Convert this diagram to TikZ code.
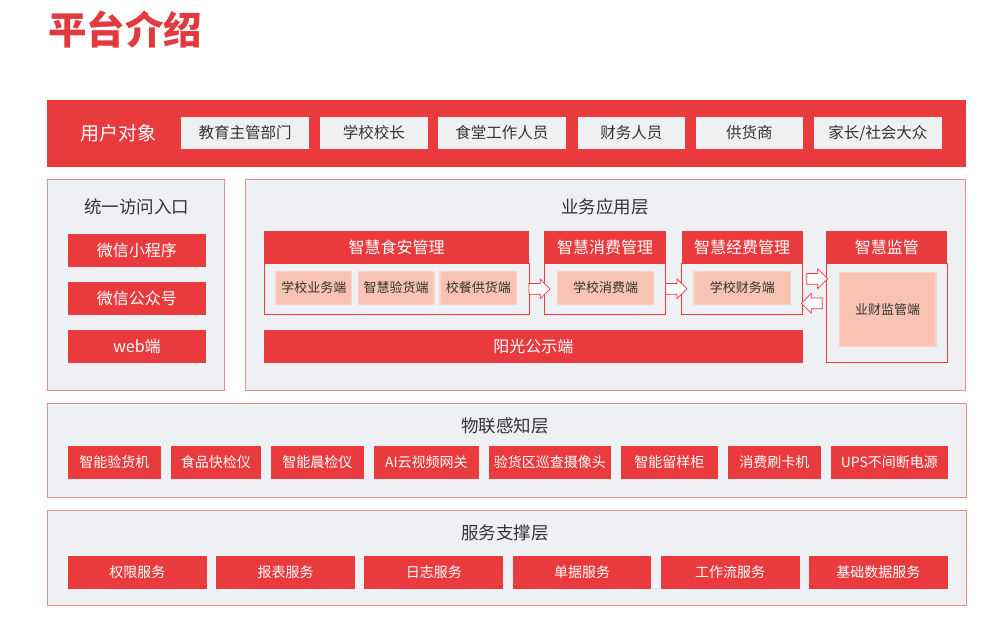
\documentclass[tikz,border=0pt]{standalone}
\usepackage{fontspec}
\setmainfont{Noto Sans CJK SC}
\usetikzlibrary{positioning,calc,shapes.arrows}

\definecolor{tmred}{HTML}{E93A3D}
\definecolor{titlered}{HTML}{E23A3E}
\definecolor{panelgrey}{HTML}{EFF0F3}
\definecolor{panelline}{HTML}{E8918C}
\definecolor{boxgrey}{HTML}{EEF0F2}
\definecolor{salmon}{HTML}{F8C3B3}
\definecolor{salmonedge}{HTML}{F9D3C7}
\definecolor{darktext}{HTML}{333333}

\tikzset{
  panel/.style={draw=panelline, fill=panelgrey, line width=0.8pt, inner sep=0pt},
  redbox/.style={fill=tmred, text=white, inner sep=0pt, outer sep=0pt, minimum height=32.6pt,
    font=\fontsize{14}{14}\selectfont},
  greybox/.style={fill=boxgrey, text=darktext, inner sep=0pt, minimum height=32.6pt,
    font=\fontsize{15.5}{15.5}\selectfont},
  headbox/.style={fill=tmred, text=white, inner sep=0pt, minimum height=32.3pt,
    font=\fontsize{16}{16}\selectfont},
  bodybox/.style={draw=tmred, fill=panelgrey, line width=0.7pt, inner sep=0pt},
  endbox/.style={fill=salmon, draw=salmonedge, line width=1.2pt, text=darktext,
    inner sep=0pt, minimum height=32.6pt, font=\fontsize{13}{13}\selectfont},
  layertitle/.style={text=darktext, font=\fontsize{17.5}{17.5}\selectfont},
  flowarrow/.style={single arrow, draw=tmred, fill=white, line width=0.7pt,
    inner xsep=0pt, inner ysep=5pt, minimum height=21pt, font=\fontsize{1}{1}\selectfont,
    single arrow head extend=4.5pt, single arrow tip angle=90}
}

\begin{document}
\begin{tikzpicture}[x=1pt,y=-1pt]
  \useasboundingbox[fill=white] (0,0) rectangle (1003,627);

  % Titulo
  \node[text=titlered, font=\fontsize{38.5}{38.5}\selectfont\bfseries] (title) at (125,29) {平台介绍};

  % Usuarios
  \node[fill=tmred, inner sep=0pt, minimum width=919pt, minimum height=66.5pt] (users) at (506.5,133.3) {};
  \node[text=white, font=\fontsize{19}{19}\selectfont] (userlabel) at (118,133.3) {用户对象};
  \node[greybox, minimum width=128pt] (u1) at (245,133) {教育主管部门};
  \node[greybox, minimum width=107.7pt] (u2) at (373.9,133) {学校校长};
  \node[greybox, minimum width=127.7pt] (u3) at (501.9,133) {食堂工作人员};
  \node[greybox, minimum width=107.3pt] (u4) at (631.3,133) {财务人员};
  \node[greybox, minimum width=106.7pt] (u5) at (749.3,133) {供货商};
  \node[greybox, minimum width=127.7pt] (u6) at (877.8,133) {家长/社会大众};

  % Acceso unificado
  \node[panel, minimum width=177pt, minimum height=210.7pt] (entry) at (135.5,284.7) {};
  \node[layertitle] (entrytitle) at (136.5,207) {统一访问入口};
  \node[redbox, minimum width=137.7pt, font=\fontsize{16}{16}\selectfont] (e1) at (136.9,250.3) {微信小程序};
  \node[redbox, minimum width=137.7pt, font=\fontsize{16}{16}\selectfont] (e2) at (136.9,298.3) {微信公众号};
  \node[redbox, minimum width=137.7pt, font=\fontsize{16}{16}\selectfont] (e3) at (136.9,346.4) {web端};

  % Capa de aplicacion
  \node[panel, minimum width=720.4pt, minimum height=210.7pt] (app) at (605.5,284.7) {};
  \node[layertitle] (apptitle) at (605,207) {业务应用层};

  % Grupos
  \node[bodybox, minimum width=265.3pt, minimum height=51pt] (safebody) at (396.7,288.8) {};
  \node[headbox, minimum width=265.3pt] (safe) at (396.7,247.2) {智慧食安管理};
  \node[bodybox, minimum width=121.4pt, minimum height=51pt] (consumebody) at (605,288.8) {};
  \node[headbox, minimum width=121.4pt] (consume) at (605,247.2) {智慧消费管理};
  \node[bodybox, minimum width=121pt, minimum height=51pt] (fundbody) at (742.2,288.8) {};
  \node[headbox, minimum width=121pt] (fund) at (742.2,247.2) {智慧经费管理};
  \node[bodybox, minimum width=121pt, minimum height=99.4pt] (supervisebody) at (886.8,313) {};
  \node[headbox, minimum width=121pt] (supervise) at (886.8,247.2) {智慧监管};

  % Terminales
  \node[endbox, minimum width=75.7pt] (s1) at (313.9,288) {学校业务端};
  \node[endbox, minimum width=75.7pt] (s2) at (396.2,288) {智慧验货端};
  \node[endbox, minimum width=76.7pt] (s3) at (478.4,288) {校餐供货端};
  \node[endbox, minimum width=96.4pt] (c1) at (605.5,288) {学校消费端};
  \node[endbox, minimum width=96.7pt] (f1) at (742.4,288) {学校财务端};
  \node[endbox, minimum width=96.7pt, minimum height=74.4pt] (m1) at (887.7,309.5) {业财监管端};
  \node[redbox, minimum width=538.7pt, font=\fontsize{16}{16}\selectfont] (public) at (533.4,346.4) {阳光公示端};

  % Flechas
  \node[flowarrow] (a1) at ($(safebody.east)!0.5!(consumebody.west)$) {};
  \node[flowarrow] (a2) at ($(consumebody.east)!0.5!(fundbody.west)$) {};
  \node[flowarrow] (a3) at ($($(fundbody.east)!0.5!(supervisebody.west |- fundbody.east)$)+(0,-10)$) {};
  \node[flowarrow, shape border rotate=180] (a4) at ($($(fundbody.east)!0.5!(supervisebody.west |- fundbody.east)$)+(0,14.5)$) {};

  % Capa de percepcion
  \node[panel, minimum width=919pt, minimum height=94pt] (iot) at (506.5,450.3) {};
  \node[layertitle] (iottitle) at (505,426) {物联感知层};
  \node[redbox, minimum width=92.7pt] (i1) at (114.4,462.5) {智能验货机};
  \node[redbox, minimum width=89.7pt, right=10.3pt of i1] (i2) {食品快检仪};
  \node[redbox, minimum width=92.7pt, right=10.3pt of i2] (i3) {智能晨检仪};
  \node[redbox, minimum width=104.7pt, right=10.3pt of i3] (i4) {AI云视频网关};
  \node[redbox, minimum width=121.7pt, right=10.3pt of i4] (i5) {验货区巡查摄像头};
  \node[redbox, minimum width=96.7pt, right=10.3pt of i5] (i6) {智能留样柜};
  \node[redbox, minimum width=92.7pt, right=10.3pt of i6] (i7) {消费刷卡机};
  \node[redbox, minimum width=116.7pt, right=10.3pt of i7] (i8) {UPS不间断电源};

  % Capa de soporte
  \node[panel, minimum width=919pt, minimum height=95pt] (svc) at (506.5,557.5) {};
  \node[layertitle] (svctitle) at (505,533) {服务支撑层};
  \foreach \name [count=\i] in {权限服务,报表服务,日志服务,单据服务,工作流服务,基础数据服务}
    \node[redbox, minimum width=138.7pt] (v\i) at ({137.4+148.2*(\i-1)},572.3) {\name};
\end{tikzpicture}
\end{document}
